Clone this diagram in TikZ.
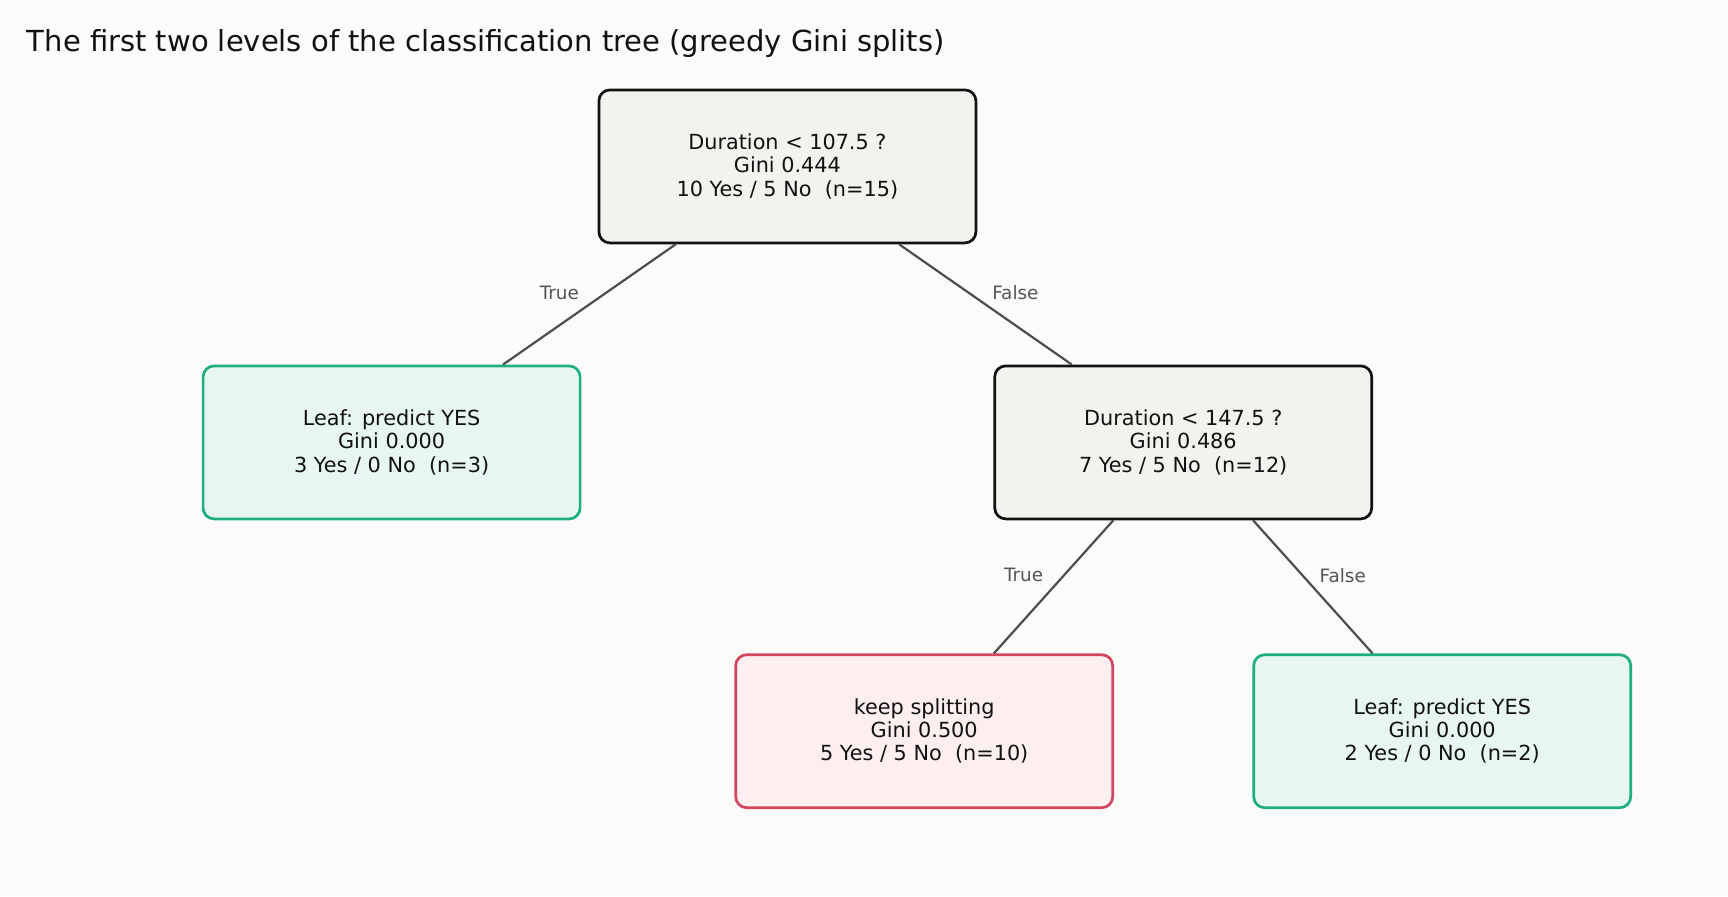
\documentclass[tikz,border=0pt]{standalone}
\usepackage{fontspec}
\setmainfont{DejaVu Sans}
\usepackage{tikz}
\usetikzlibrary{backgrounds}

\definecolor{pagebg}{HTML}{FBFBF9}
\definecolor{splitfill}{HTML}{F3F2EE}
\definecolor{splitline}{HTML}{111111}
\definecolor{leaffill}{HTML}{E7F6EF}
\definecolor{leafline}{HTML}{1FAE7E}
\definecolor{keepfill}{HTML}{FDEEF0}
\definecolor{keepline}{HTML}{D4465F}
\definecolor{edgegray}{HTML}{4D4D4D}
\definecolor{lblgray}{HTML}{555555}

\begin{document}
\begin{tikzpicture}[x=0.5pt,y=-0.5pt,every node/.style={align=center,text=splitline,inner sep=0pt,font=\fontsize{10.4}{11.6}\selectfont},box/.style={rectangle,rounded corners=5.5pt,line width=1.35pt,minimum width=188.5pt,minimum height=76.5pt},split/.style={box,draw=splitline,fill=splitfill},leaf/.style={box,draw=leafline,fill=leaffill},keep/.style={box,draw=keepline,fill=keepfill},lblL/.style={text=lblgray,font=\fontsize{9.2}{11}\selectfont,xshift=-15pt,yshift=5.8pt},lblR/.style={text=lblgray,font=\fontsize{9.2}{11}\selectfont,xshift=15pt,yshift=5.8pt},edge from parent/.style={draw=edgegray,line width=1.1pt},level 1/.style={sibling distance=395.8pt,level distance=138pt},level 2/.style={sibling distance=259pt,level distance=144.4pt}]
	\fill[pagebg] (0,0) rectangle (1728,896);
	\useasboundingbox (0,0) rectangle (1728,896);
	\node[anchor=west,font=\fontsize{14.5}{17}\selectfont] (title) at (26.5,43) {The first two levels of the classification tree (greedy Gini splits)};
	\node[split] (root) at (787.4,166.4) {Duration < 107.5 ?\\Gini 0.444\\10 Yes / 5 No~~(n=15)}
	child {
		node[leaf] (leafA) {Leaf: predict YES\\Gini 0.000\\3 Yes / 0 No~~(n=3)}
		edge from parent node[lblL] (trueA) {True}
	}
	child {
		node[split] (splitB) {Duration < 147.5 ?\\Gini 0.486\\7 Yes / 5 No~~(n=12)}
		child {
			node[keep] (keepC) {keep splitting\\Gini 0.500\\5 Yes / 5 No~~(n=10)}
			edge from parent node[lblL] (trueC) {True}
		}
		child {
			node[leaf] (leafD) {Leaf: predict YES\\Gini 0.000\\2 Yes / 0 No~~(n=2)}
			edge from parent node[lblR] (falseD) {False}
		}
		edge from parent node[lblR] (falseB) {False}
	};
\end{tikzpicture}
\end{document}
